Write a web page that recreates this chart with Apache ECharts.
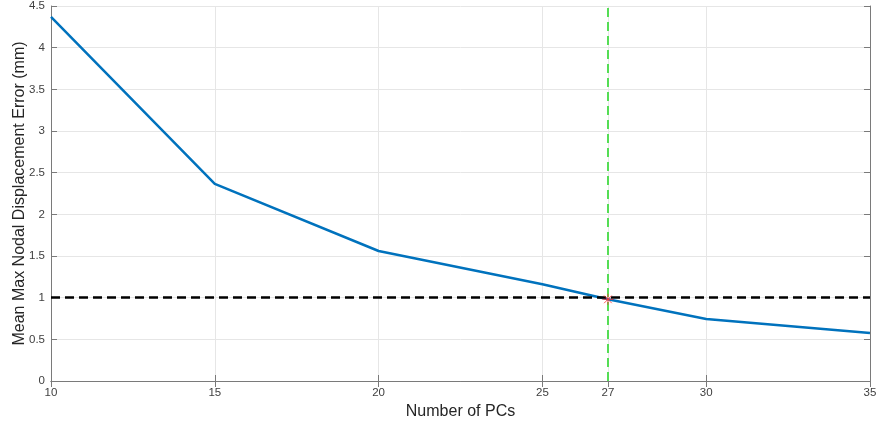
<!DOCTYPE html>
<html style="height: 100%">
<head>
<meta charset="utf-8">
</head>
<body style="height: 100%; margin: 0; background: #fff">
<div id="container" style="width: 878px; height: 425px"></div>
<script src="https://cdn.jsdelivr.net/npm/echarts@6/dist/echarts.min.js"></script>
<script>
// number of principal components vs. mean max nodal displacement error
var pcs = [10, 15, 20, 25, 27, 30, 35];
var errors = [4.37, 2.365, 1.56, 1.16, 0.98, 0.745, 0.575];
var xTicks = [10, 15, 20, 25, 27, 30, 35];
var threshold = 1;
var chosenPC = 27;
var chosenErr = 0.98;

var font = 'Liberation Sans, Arial, sans-serif';
var axisGray = '#7a7a7a';

var chart = echarts.init(document.getElementById('container'));

var option = {
    backgroundColor: '#fff',
    animation: false,
    grid: { left: 51, right: 8, top: 6, bottom: 44, outerBoundsMode: 'none' },
    xAxis: [{
        type: 'value',
        min: 10, max: 35,
        name: 'Number of PCs',
        nameLocation: 'middle',
        nameGap: 22,
        nameTextStyle: { fontFamily: font, fontSize: 16, color: '#262626' },
        axisLine: { lineStyle: { color: axisGray, width: 1 } },
        axisTick: { inside: true, length: 6, lineStyle: { color: axisGray }, customValues: xTicks },
        axisLabel: { fontFamily: font, fontSize: 11.5, color: '#404040', margin: 6, customValues: xTicks },
        splitLine: { show: true, lineStyle: { color: '#e6e6e6', width: 1 } }
    }, {
        type: 'value',
        position: 'top',
        min: 10, max: 35,
        axisLine: { show: true, lineStyle: { color: axisGray } },
        axisTick: { inside: true, length: 6, lineStyle: { color: axisGray }, customValues: xTicks },
        axisLabel: { show: false, customValues: xTicks },
        splitLine: { show: false }
    }],
    yAxis: [{
        type: 'value',
        min: 0, max: 4.5, interval: 0.5,
        name: 'Mean Max Nodal Displacement Error (mm)',
        nameLocation: 'middle',
        nameGap: 23,
        nameMoveOverlap: false,
        nameTextStyle: { fontFamily: font, fontSize: 16, color: '#262626' },
        axisLine: { show: true, lineStyle: { color: axisGray } },
        axisTick: { show: true, inside: true, length: 6, lineStyle: { color: axisGray } },
        axisLabel: { fontFamily: font, fontSize: 11.5, color: '#404040', margin: 6 },
        splitLine: { show: true, lineStyle: { color: '#e6e6e6', width: 1 } }
    }, {
        type: 'value',
        position: 'right',
        min: 0, max: 4.5, interval: 0.5,
        axisLine: { show: true, lineStyle: { color: axisGray } },
        axisTick: { show: true, inside: true, length: 6, lineStyle: { color: axisGray } },
        axisLabel: { show: false },
        splitLine: { show: false }
    }],
    series: [{
        name: 'error',
        type: 'line',
        data: pcs.map(function (p, i) { return [p, errors[i]]; }),
        showSymbol: false,
        lineStyle: { color: '#0072BD', width: 2.5 },
        itemStyle: { color: '#0072BD' },
        z: 3,
        markLine: {
            silent: true,
            symbol: 'none',
            label: { show: false },
            data: [
                { yAxis: threshold, lineStyle: { color: '#000', width: 2.5, type: [9, 5] } },
                { xAxis: chosenPC, lineStyle: { color: '#55dd55', width: 2, type: [9, 5] } }
            ]
        }
    }, {
        name: 'chosen',
        type: 'scatter',
        data: [[chosenPC, chosenErr]],
        symbol: 'path://M5,0 L5,10 M0,5 L10,5 M1.5,1.5 L8.5,8.5 M8.5,1.5 L1.5,8.5',
        symbolSize: 11,
        itemStyle: { color: 'none', borderColor: '#ff3333', borderWidth: 1 },
        z: 5
    }]
};

chart.setOption(option);
</script>
</body>
</html>
